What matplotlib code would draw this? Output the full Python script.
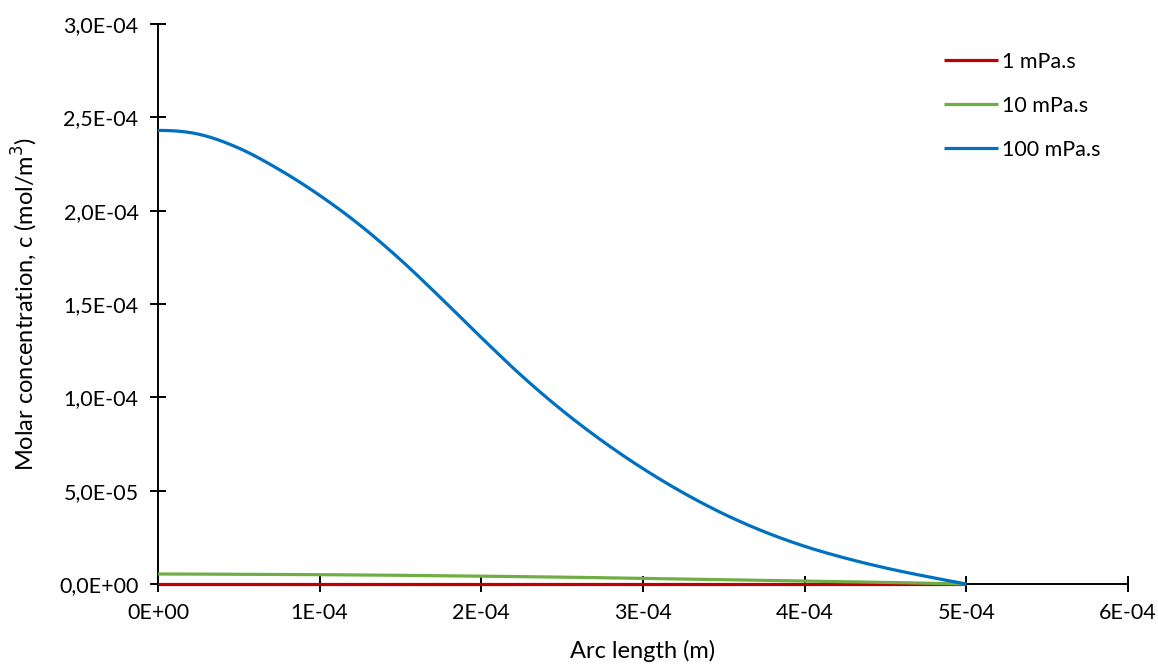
import numpy as np
import matplotlib
matplotlib.use("Agg")
import matplotlib.pyplot as plt
from matplotlib.ticker import FuncFormatter

plt.rcParams['font.family'] = ['Lato', 'DejaVu Sans']

# arc length (m)
arc = np.array([0, 0.25, 0.5, 0.75, 1.0, 1.25, 1.5, 1.75, 2.0, 2.25, 2.5,
                2.75, 3.0, 3.25, 3.5, 3.75, 4.0, 4.25, 4.5, 4.75, 5.0]) * 1e-4

# molar concentration (mol/m3) for each viscosity
c_1 = np.array([0.0] * 21)
c_10 = np.array([5.36, 5.3, 5.2, 5.1, 5.0, 4.85, 4.65, 4.45, 4.2, 3.95, 3.7,
                 3.35, 3.0, 2.65, 2.3, 1.95, 1.6, 1.25, 0.85, 0.45, 0.0]) * 1e-6
c_100 = np.array([2.43, 2.41, 2.335, 2.22, 2.082, 1.922, 1.737, 1.532, 1.32,
                  1.115, 0.93, 0.765, 0.618, 0.488, 0.375, 0.28, 0.202,
                  0.139, 0.086, 0.041, 0.0]) * 1e-4

labels = ['1 mPa.s', '10 mPa.s', '100 mPa.s']
colors = ['#C00000', '#70AD47', '#0070C0']


def smooth(x, y, n=20):
    # catmull-rom curve through the points, like excel's smoothed line
    px = np.concatenate([[2 * x[0] - x[1]], x, [2 * x[-1] - x[-2]]])
    py = np.concatenate([[y[1]], y, [2 * y[-1] - y[-2]]])
    t = np.linspace(0, 1, n, endpoint=False)
    xs, ys = [], []
    for i in range(1, len(px) - 2):
        for p, out in ((px, xs), (py, ys)):
            p0, p1, p2, p3 = p[i - 1], p[i], p[i + 1], p[i + 2]
            out.extend(0.5 * (2 * p1 + (-p0 + p2) * t
                              + (2 * p0 - 5 * p1 + 4 * p2 - p3) * t ** 2
                              + (-p0 + 3 * p1 - 3 * p2 + p3) * t ** 3))
    xs.append(x[-1])
    ys.append(y[-1])
    return np.array(xs), np.array(ys)


fig = plt.figure(figsize=(11.58, 6.69), dpi=100)
ax = fig.add_axes([158 / 1158, 85 / 669, 970 / 1158, 560 / 669])

for y, lab, col in zip([c_1, c_10, c_100], labels, colors):
    sx, sy = smooth(arc, y)
    ax.plot(sx, sy, color=col, lw=2.3, label=lab, solid_capstyle='butt',
            zorder=3, clip_on=False)

ax.set_xlim(0, 6e-4)
ax.set_ylim(0, 3e-4)
ax.set_xticks(np.arange(0, 6.5e-4, 1e-4))
ax.set_yticks(np.arange(0, 3.25e-4, 0.5e-4))


def xfmt(v, pos):
    return '%.0E' % v if v != 0 else '0E+00'


def yfmt(v, pos):
    return ('%.1E' % v).replace('.', ',')


ax.xaxis.set_major_formatter(FuncFormatter(xfmt))
ax.yaxis.set_major_formatter(FuncFormatter(yfmt))

for s in ['top', 'right']:
    ax.spines[s].set_visible(False)
for s in ['left', 'bottom']:
    ax.spines[s].set_linewidth(1.4)
    ax.spines[s].set_color('black')

ax.tick_params(direction='inout', length=12, width=1.4, labelsize=15.5, pad=8)

ax.set_xlabel('Arc length (m)', fontsize=17, labelpad=12)
ax.set_ylabel('Molar concentration, c (mol/m$^3$)', fontsize=17, labelpad=14)

ax.legend(loc='upper right', bbox_to_anchor=(0.992, 0.985), frameon=False,
          fontsize=15.5, handlelength=2.5, handletextpad=0.2, labelspacing=1.12)

fig.savefig('out.png', dpi=100)
